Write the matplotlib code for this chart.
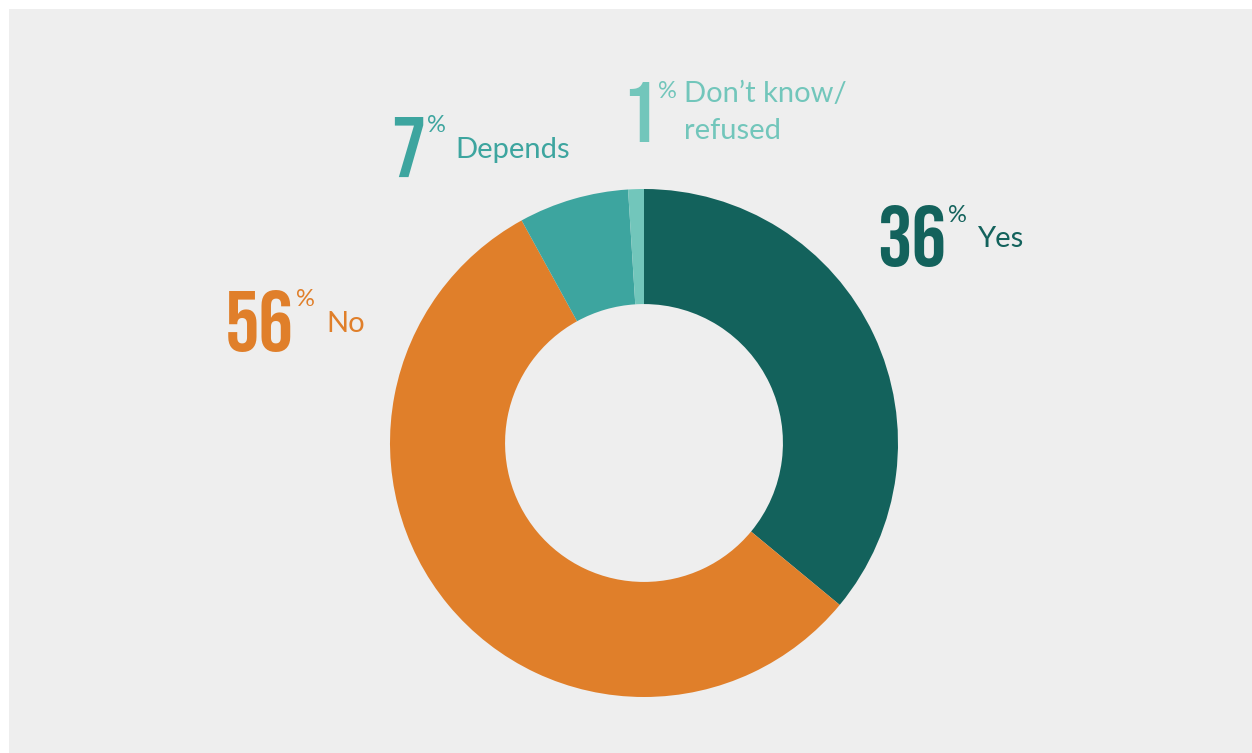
import matplotlib
matplotlib.use("Agg")
import matplotlib.pyplot as plt
from matplotlib.patches import Rectangle

labels = ["Yes", "No", "Depends", "Don\u2019t know/\nrefused"]
values = [36, 56, 7, 1]
colors = ["#13625c", "#e07f2a", "#3da59f", "#72c6bb"]

W, H = 1252, 753
fig = plt.figure(figsize=(W / 100, H / 100), dpi=100, facecolor="white")

def fx(px):
    return px / W

def fy(py):
    return 1 - py / H

# gray panel behind everything
fig.patches.append(Rectangle((fx(9), 0), 1 - fx(9), fy(9), transform=fig.transFigure,
                             facecolor="#eeeeee", edgecolor="none", zorder=-10))

ax = fig.add_axes([fx(390), fy(697), fx(898) - fx(390), fy(189) - fy(697)])
ax.patch.set_visible(False)
ax.pie(values, colors=colors, startangle=90, counterclock=False, radius=1,
       wedgeprops=dict(width=0.453, linewidth=0))
ax.set_xlim(-1, 1)
ax.set_ylim(-1, 1)
ax.set_aspect("equal")
ax.axis("off")

num_font = ["Bebas Neue", "Liberation Sans Narrow", "DejaVu Sans"]
lab_font = ["Lato", "DejaVu Sans"]

# (number x, number baseline y, pct top y, label x, label baseline y)
pos = [
    (877, 266, 205, 977, 247),
    (225, 351, 289, 326, 332),
    (391, 177, 115, 455, 158),
    (622, 142, 81, 684, 139),
]
fig.canvas.draw()
renderer = fig.canvas.get_renderer()
for v, lab, c, (nx, ny, py, lx, ly) in zip(values, labels, colors, pos):
    t = fig.text(fx(nx), fy(ny), str(v), color=c, fontsize=62,
                 family=num_font, va="baseline", ha="left")
    right = t.get_window_extent(renderer).x1
    px = right + 2
    fig.text(px / W, fy(py), "%", color=c, fontsize=17,
             family=lab_font, va="top", ha="left")
    fig.text(fx(max(lx, px + 26)), fy(ly), lab, color=c, fontsize=21,
             family=lab_font, va="baseline", ha="left", linespacing=1.5)

fig.savefig("out.png", dpi=100, facecolor=fig.get_facecolor())
